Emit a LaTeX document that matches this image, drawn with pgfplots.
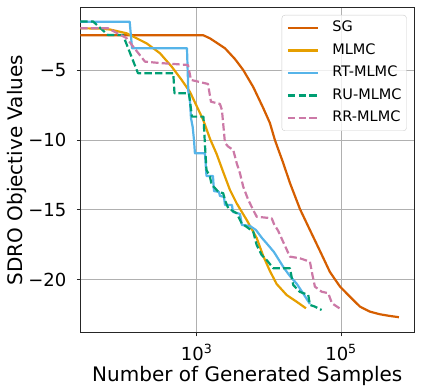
\documentclass[border=0pt]{standalone}
\usepackage{fontspec}
\setmainfont{DejaVu Sans}
\usepackage{pgfplots}
\pgfplotsset{compat=1.18}
\definecolor{cSG}{HTML}{D55E00}
\definecolor{cML}{HTML}{E69F00}
\definecolor{cRT}{HTML}{56B4E9}
\definecolor{cRU}{HTML}{009E73}
\definecolor{cRR}{HTML}{CC79A7}
\begin{document}
\begin{tikzpicture}
\begin{axis}[
 scale only axis, width=334pt, height=325.7pt,
 xmin=1.388, xmax=6.015, ymin=-23.82, ymax=-0.487,
 xtick={3,5}, xticklabels={10\textsuperscript{3},10\textsuperscript{5}},
 ytick={-20,-15,-10,-5}, yticklabels={−20,−15,−10,−5},
 minor tick num=0,
 tick pos=left, tick align=outside, major tick length=3.5pt,
 every tick/.style={black!85, line width=0.8pt},
 grid=major, grid style={color=black!31, line width=0.8pt},
 axis line style={black!85, line width=1pt},
 tick label style={font=\fontsize{18}{20}\selectfont},
 xticklabel style={anchor=base, yshift=-23.7pt, inner sep=0pt},
 yticklabel style={anchor=east, inner sep=0pt, xshift=-10.3pt},
 xlabel={Number of Generated Samples}, ylabel={SDRO Objective Values},
 label style={font=\fontsize{20}{24}\selectfont},
 xlabel style={at={(axis description cs:0.5,-0.1495)}, anchor=base},
 ylabel style={at={(axis description cs:-0.1716,0.5)}, anchor=base},
 legend style={at={(axis description cs:1,1)}, anchor=north east, xshift=-7.6pt, yshift=-7.7pt,
   draw=black!20, fill=white, fill opacity=0.8, text opacity=1, rounded corners=3pt,
   font=\fontsize{14.5}{17}\selectfont, inner xsep=5pt, inner ysep=6pt, row sep=8.9pt,
   nodes={inner sep=0pt, text height=10.6pt, text depth=3pt},
   /tikz/every odd column/.style={column sep=13.3pt}},
 legend cell align=left,
 legend image code/.code={\draw[#1, line width=2.2pt] (0pt,0pt) -- (30pt,0pt);},
 every axis plot/.append style={line width=2.2pt, line join=round},
]
\addplot[cSG] coordinates {(1.388,-2.49) (3.091,-2.49) (3.184,-2.71) (3.392,-3.42) (3.530,-4.19) (3.645,-4.98) (3.784,-6.20) (3.922,-7.70) (4.015,-8.78) (4.084,-10.00) (4.199,-11.64) (4.292,-13.07) (4.431,-14.94) (4.569,-16.44) (4.708,-17.94) (4.846,-19.45) (4.985,-20.49) (5.123,-21.22) (5.262,-21.93) (5.400,-22.29) (5.539,-22.48) (5.677,-22.60) (5.802,-22.69)};
\addlegendentry{SG}
\addplot[cML] coordinates {(1.388,-1.99) (1.661,-2.01) (1.801,-2.08) (2.030,-2.35) (2.307,-3.07) (2.492,-3.78) (2.654,-4.74) (2.792,-5.69) (2.907,-6.55) (3.000,-7.56) (3.091,-8.56) (3.184,-9.90) (3.277,-11.00) (3.368,-12.29) (3.461,-13.57) (3.554,-14.53) (3.693,-15.72) (3.831,-17.01) (3.922,-18.30) (4.015,-19.38) (4.108,-20.31) (4.247,-21.10) (4.385,-21.58) (4.514,-22.05)};
\addlegendentry{MLMC}
\addplot[cRT] coordinates {(1.388,-1.52) (2.072,-1.52) (2.105,-3.42) (2.866,-3.42) (2.884,-6.48) (2.907,-7.13) (2.921,-8.42) (2.945,-9.06) (2.963,-10.0) (2.976,-10.95) (3.115,-10.95) (3.136,-12.57) (3.226,-12.57) (3.240,-13.65) (3.309,-13.72) (3.323,-14.00) (3.378,-14.07) (3.392,-14.65) (3.489,-14.65) (3.503,-15.15) (3.600,-15.29) (3.627,-16.08) (3.738,-16.15) (3.821,-16.44) (3.904,-17.01) (3.988,-17.51) (4.071,-18.02) (4.140,-18.59) (4.209,-19.16) (4.292,-19.74) (4.389,-20.31) (4.472,-20.96) (4.569,-21.74)};
\addlegendentry{RT-MLMC}
\addplot[cRU, dash pattern=on 7.4pt off 3.2pt] coordinates {(1.388,-1.50) (1.564,-1.50) (1.771,-2.47) (1.979,-2.47) (2.187,-5.21) (2.676,-5.21) (2.693,-6.65) (2.893,-6.65) (2.935,-8.32) (3.094,-8.32) (3.115,-10.35) (3.136,-12.14) (3.184,-12.62) (3.208,-13.22) (3.253,-13.43) (3.299,-13.70) (3.368,-13.81) (3.392,-14.29) (3.438,-14.89) (3.554,-15.24) (3.623,-15.96) (3.784,-16.56) (3.831,-17.51) (3.900,-18.23) (3.970,-18.59) (4.061,-19.18) (4.292,-19.18) (4.338,-20.38) (4.431,-20.88) (4.546,-21.09) (4.569,-21.81) (4.638,-21.93) (4.731,-22.17)};
\addlegendentry{RU-MLMC}
\addplot[cRR, dash pattern=on 7.4pt off 3.2pt] coordinates {(1.388,-1.99) (1.771,-1.99) (2.028,-2.69) (2.284,-4.38) (2.492,-4.48) (2.880,-4.62) (2.921,-5.69) (3.157,-5.98) (3.198,-7.25) (3.323,-7.41) (3.350,-7.84) (3.392,-10.21) (3.438,-10.47) (3.507,-10.71) (3.554,-11.64) (3.600,-12.38) (3.645,-13.34) (3.715,-14.29) (3.784,-15.01) (3.831,-15.49) (4.039,-15.60) (4.071,-16.01) (4.130,-16.51) (4.199,-17.30) (4.292,-18.35) (4.431,-18.47) (4.569,-18.71) (4.604,-19.66) (4.638,-20.50) (4.731,-20.86) (4.823,-20.97) (4.874,-21.69) (4.999,-22.12)};
\addlegendentry{RR-MLMC}
\end{axis}
\pgfresetboundingbox
\path[use as bounding box] ([xshift=-80.3pt,yshift=-59pt]current axis.south west) rectangle ([xshift=6.7pt,yshift=7.3pt]current axis.north east);
\end{tikzpicture}
\end{document}
